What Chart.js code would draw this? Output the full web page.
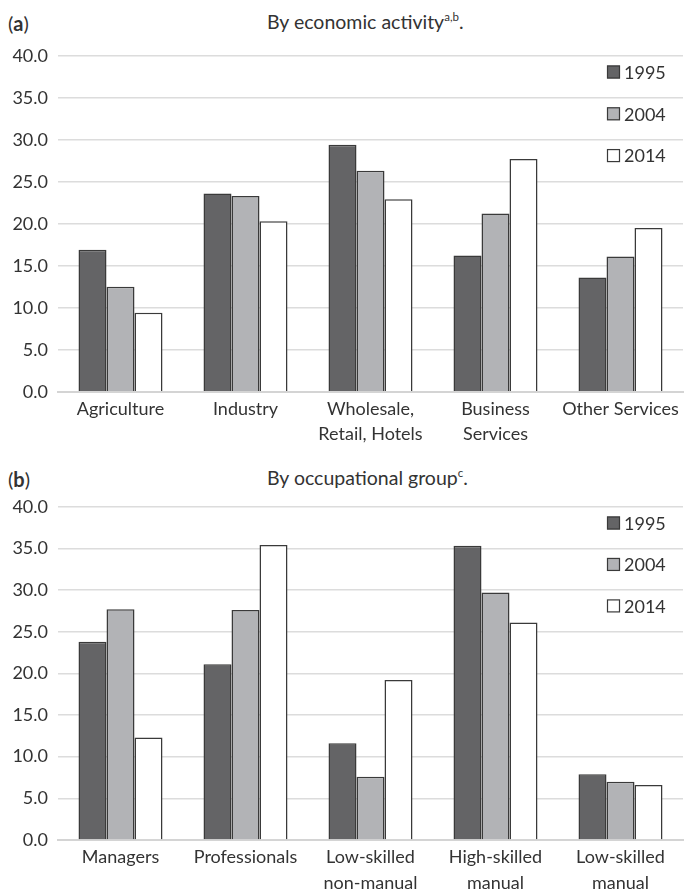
<!DOCTYPE html>
<html>
<head>
<meta charset="utf-8">
<script src="https://cdn.jsdelivr.net/npm/chart.js@4.4.1/dist/chart.umd.min.js"></script>
<style>
  html, body { margin: 0; padding: 0; background: #fff; }
  body { width: 685px; height: 890px; position: relative; overflow: hidden; font-family: Lato, "Open Sans", sans-serif; color: #333; }
  .panel-tag { position: absolute; left: 8px; font-size: 20px; line-height: 22px; white-space: nowrap; }
  .panel-tag b { font-weight: 700; }
  .panel-title { position: absolute; left: 267px; font-size: 19.5px; line-height: 22px; white-space: nowrap; }
  .panel-title sup { font-size: 11.5px; vertical-align: 8px; line-height: 0; }
  .chart-box { position: absolute; left: 0; width: 685px; }
  canvas { display: block; }
</style>
</head>
<body>
<div class="panel-tag" style="top:12px">(<b>a</b>)</div>
<div class="panel-title" style="top:10.5px">By economic activity<sup>a,b</sup>.</div>
<div class="chart-box" style="top:40px; height:420px"><canvas id="chartA" width="685" height="420"></canvas></div>

<div class="panel-tag" style="top:468px">(<b>b</b>)</div>
<div class="panel-title" style="top:466.5px">By occupational group<sup>c</sup>.</div>
<div class="chart-box" style="top:490px; height:400px"><canvas id="chartB" width="685" height="400"></canvas></div>

<script>
// Series labels and tick values shared by both panels
const years = ['1995', '2004', '2014'];
const yTicks = [0, 5, 10, 15, 20, 25, 30, 35, 40];

// Panel (a): by economic activity
const activityCategories = [['Agriculture'], ['Industry'], ['Wholesale,', 'Retail, Hotels'], ['Business', 'Services'], ['Other Services']];
const activity1995 = [16.9, 23.6, 29.4, 16.2, 13.6];
const activity2004 = [12.5, 23.3, 26.3, 21.2, 16.1];
const activity2014 = [9.4, 20.3, 22.9, 27.7, 19.5];

// Panel (b): by occupational group
const occupationCategories = [['Managers'], ['Professionals'], ['Low-skilled', 'non-manual'], ['High-skilled', 'manual'], ['Low-skilled', 'manual']];
const occupation1995 = [23.8, 21.1, 11.6, 35.3, 7.9];
const occupation2004 = [27.7, 27.6, 7.6, 29.7, 7.0];
const occupation2014 = [12.3, 35.4, 19.2, 26.1, 6.6];

const fills = ['#646466', '#b2b3b6', '#ffffff'];
const edge = '#3a3a3a';
const textColor = '#333333';
const fontFamily = 'Lato, "Open Sans", sans-serif';

// Vertical legend drawn inside the top-right corner of the plot area
const insideLegend = {
  id: 'insideLegend',
  afterDraw(chart) {
    const ctx = chart.ctx;
    const area = chart.chartArea;
    const step = (area.bottom - area.top) / 8 * 0.995;
    ctx.save();
    ctx.font = '18px ' + fontFamily;
    ctx.textBaseline = 'middle';
    ctx.textAlign = 'left';
    chart.data.datasets.forEach((ds, i) => {
      const cy = area.top + 16.3 + i * step;
      const bx = 607;
      ctx.fillStyle = ds.backgroundColor;
      ctx.fillRect(bx, cy - 6.5, 13, 13);
      ctx.strokeStyle = edge;
      ctx.lineWidth = 1.2;
      ctx.strokeRect(bx + 0.5, cy - 6, 12, 12);
      ctx.fillStyle = textColor;
      ctx.fillText(ds.label, 624, cy + 1);
    });
    ctx.restore();
  }
};

function makeChart(id, categories, series, padTop, xHeight) {
  return new Chart(document.getElementById(id), {
    type: 'bar',
    data: {
      labels: categories,
      datasets: series.map((vals, i) => ({
        label: years[i],
        data: vals,
        backgroundColor: fills[i],
        borderColor: edge,
        borderWidth: 1.5,
        borderSkipped: 'bottom',
        categoryPercentage: 0.672,
        barPercentage: 1.0
      }))
    },
    options: {
      responsive: false,
      animation: false,
      layout: { padding: { left: 12, right: 2, top: padTop, bottom: 0 } },
      plugins: { legend: { display: false }, tooltip: { enabled: false } },
      scales: {
        x: {
          grid: { display: false, drawTicks: false },
          border: { display: true, color: '#d4d4d4', width: 2 },
          ticks: { color: textColor, font: { family: fontFamily, size: 18, lineHeight: 1.4 }, padding: 5, maxRotation: 0, autoSkip: false },
          afterFit(scale) { scale.height = xHeight; }
        },
        y: {
          min: 0, max: 40,
          afterBuildTicks(scale) { scale.ticks = yTicks.map(v => ({ value: v })); },
          grid: { color: '#dcdcdc', lineWidth: 1.6, drawTicks: false },
          border: { display: false },
          ticks: {
            color: textColor, font: { family: fontFamily, size: 18 }, padding: 10,
            callback: v => Number(v).toFixed(1)
          },
          afterFit(scale) {
            scale.width = 46;
            scale.paddingTop = 0;
            scale.paddingBottom = 0;
          }
        }
      }
    },
    plugins: [insideLegend]
  });
}

makeChart('chartA', activityCategories, [activity1995, activity2004, activity2014], 15.7, 68.3);
makeChart('chartB', occupationCategories, [occupation1995, occupation2004, occupation2014], 16.7, 50);
</script>
</body>
</html>
